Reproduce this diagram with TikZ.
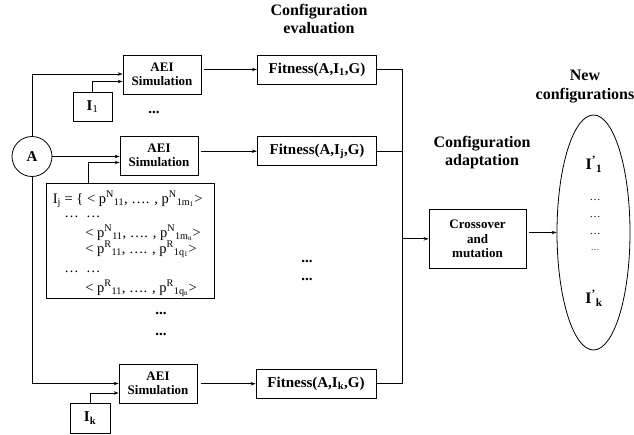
\documentclass[tikz,border=0pt]{standalone}
\usepackage{fontspec}
\setmainfont{Liberation Serif}
\usetikzlibrary{arrows.meta,shapes.geometric}
\begin{document}
\begin{tikzpicture}[x=1pt,y=-1pt,
  line width=0.8pt,
  box/.style={draw,inner sep=0pt,align=center,font=\bfseries\fontsize{13}{14.5}\selectfont},
  head/.style={align=center,font=\bfseries\fontsize{16}{18.5}\selectfont},
  arr/.style={-{Stealth[length=5pt,width=3.5pt]}},
  bdots/.style={font=\bfseries\fontsize{15}{15}\selectfont},
  ij/.style={anchor=base west,inner sep=0pt,font=\fontsize{14.5}{14.5}\selectfont},
  edots/.style={font=\fontsize{11}{11}\selectfont,inner sep=0pt}]
\useasboundingbox (0,0) rectangle (634,434);

% circle A
\node[draw,circle,minimum size=40pt,inner sep=0pt,font=\bfseries\fontsize{15}{15}\selectfont] (A) at (32,156.5) {A};

% AEI boxes
\node[box,minimum width=78pt,minimum height=39pt] (S1) at (162,74.5) {AEI\\Simulation};
\node[box,minimum width=78pt,minimum height=39pt] (S2) at (159,155.5) {AEI\\Simulation};
\node[box,minimum width=78pt,minimum height=39pt] (S3) at (158,383.5) {AEI\\Simulation};

% input boxes
\node[box,minimum width=39pt,minimum height=29pt,font=\bfseries\fontsize{15}{15}\selectfont] (I1) at (92.5,106.5) {I\textsubscript{\mdseries 1}};
\node[box,minimum width=40pt,minimum height=30pt,font=\bfseries\fontsize{15}{15}\selectfont] (Ik) at (90,418) {I\textsubscript{k}};
\node[draw,minimum width=168pt,minimum height=115pt,inner sep=0pt] (Ij) at (130,240.5) {};

% Ij contents
\node[ij] (l1) at (52.5,203) {I\textsubscript{j} = \{ < p\textsuperscript{N}\textsubscript{11}, …. , p\textsuperscript{N}\textsubscript{1m\textsubscript{1}}>};
\node[ij] (l2) at (64,217) {…\ \ …};
\node[ij] (l3) at (85,237) {< p\textsuperscript{N}\textsubscript{11}, …. , p\textsuperscript{N}\textsubscript{1m\textsubscript{n}}>};
\node[ij] (l4) at (85,253) {< p\textsuperscript{R}\textsubscript{11}, …. , p\textsuperscript{R}\textsubscript{1q\textsubscript{1}}>};
\node[ij] (l5) at (64,272) {…\ \ …};
\node[ij] (l6) at (85,292) {< p\textsuperscript{R}\textsubscript{11}, …. , p\textsuperscript{R}\textsubscript{1q\textsubscript{n}}>};

% fitness boxes
\node[box,minimum width=119.5pt,minimum height=29pt,font=\bfseries\fontsize{15}{15}\selectfont] (F1) at (317,69.5) {Fitness(A,I\textsubscript{1},G)};
\node[box,minimum width=119.5pt,minimum height=29pt,font=\bfseries\fontsize{15}{15}\selectfont] (F2) at (317,151.2) {Fitness(A,I\textsubscript{j},G)};
\node[box,minimum width=120pt,minimum height=29pt,font=\bfseries\fontsize{15}{15}\selectfont] (F3) at (316,383.7) {Fitness(A,I\textsubscript{k},G)};

% crossover
\node[box,minimum width=97pt,minimum height=59pt] (C) at (477.5,238.8) {Crossover\\and\\mutation};

% ellipse
\node[draw,ellipse,minimum width=73pt,minimum height=235pt,inner sep=0pt] (E) at (593.5,232.5) {};
\node[font=\bfseries\fontsize{16}{16}\selectfont] (e1) at (594,164) {I\textsuperscript{'}\textsubscript{1}};
\node[edots] (d1) at (595,200) {…};
\node[edots] (d2) at (595,217.5) {…};
\node[edots] (d3) at (595,234) {…};
\node[edots,font=\fontsize{8.5}{8.5}\selectfont] (d4) at (595,250) {…};
\node[font=\bfseries\fontsize{16}{16}\selectfont] (ek) at (594,298) {I\textsuperscript{'}\textsubscript{k}};

% headings
\node[head] (h1) at (319,19) {Configuration\\evaluation};
\node[head] (h2) at (482,152.5) {Configuration\\adaptation};
\node[head] (h3) at (585,86.5) {New\\configurations};

% bold dots
\node[bdots] (b1) at (154,112) {...};
\node[bdots] (b2) at (161,313) {...};
\node[bdots] (b3) at (161,334) {...};
\node[bdots] (b4) at (307,261) {...};
\node[bdots] (b5) at (307,279) {...};

% connectors from A
\coordinate (a1) at (32,74);
\draw[arr] (A.north) -- (a1) -- (S1.west |- a1);
\draw[arr] (A.east) -- (S2.west |- A.east);
\coordinate (a3) at (32,383.5);
\draw[arr] (A.south) -- (a3) -- (S3.west |- a3);

% inputs
\coordinate (i1) at (92.5,81.5);
\draw[arr] (I1.north) -- (i1) -- (S1.west |- i1);
\coordinate (ij) at (88,162.5);
\draw[arr] (Ij.north -| ij) -- (ij) -- (S2.west |- ij);
\coordinate (ik) at (90,393);
\draw[arr] (Ik.north) -- (ik) -- (S3.west |- ik);

% simulation -> fitness
\draw[arr,shorten <=2.5pt] (S1.east |- F1.west) -- (F1.west);
\draw[arr,shorten <=2.5pt] (S2.east |- F2.west) -- (F2.west);
\draw[arr,shorten <=4pt] (S3.east |- F3.west) -- (F3.west);

% fitness -> collector
\coordinate (v1) at (402,69.5);
\coordinate (v3) at (402,383.7);
\coordinate (vc) at (402,238.8);
\draw (F1.east) -- (v1) -- (v3) -- (F3.east);
\draw (F2.east) -- (F2.east -| v1);
\draw[arr,line width=1.3pt] (vc) -- (C.west);

% crossover -> ellipse
\draw[arr,shorten <=3pt] (C.east |- E.west) -- (E.west);
\end{tikzpicture}
\end{document}
